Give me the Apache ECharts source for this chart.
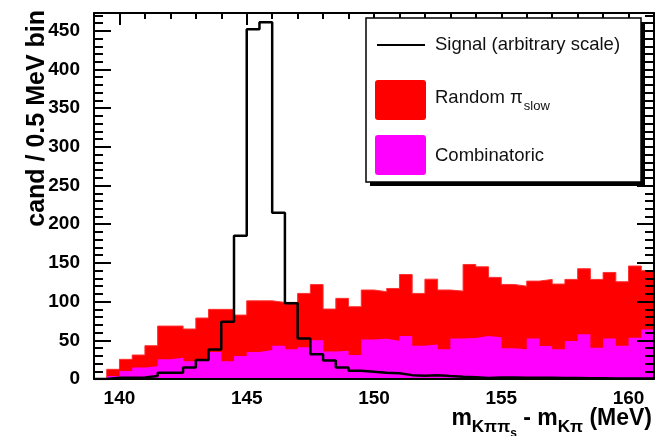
<!DOCTYPE html>
<html><head><meta charset="utf-8">
<script src="https://cdn.jsdelivr.net/npm/echarts@6/dist/echarts.min.js"></script>
<style>html,body{margin:0;padding:0;background:#fff}#chart{width:664px;height:436px}</style>
</head><body><div id="chart"></div>
<script>
// ---- data (0.5 MeV bins from 139 to 161 MeV) ----
const binEdges = [139,139.5,140,140.5,141,141.5,142,142.5,143,143.5,144,144.5,145,145.5,146,146.5,147,147.5,148,148.5,149,149.5,150,150.5,151,151.5,152,152.5,153,153.5,154,154.5,155,155.5,156,156.5,157,157.5,158,158.5,159,159.5,160,160.5,161];
const signal = [0,1.5,1.5,2,4,8,8,15,24.5,38,74,185,452,461,215,98,52.5,32,24,15,10.7,9.4,8,7.3,5,4.3,5,3.9,3,2.2,1.3,2,2,1.6,1.6,1.5,1.3,1.2,1,1,0.8,0.8,0.6,0.5];
// stacked height: Random pi_slow on top of Combinatoric
const randomPlusCombinatoric = [0,12.5,25.4,31,43,68.4,68.4,64.6,78.8,90,90,82.6,101,101,99,99,110.6,122,90.4,104.2,93.4,115,112.8,117,135,110.6,129,115,113.6,148,145,131.3,122.2,120,126.5,128.7,122.7,128.7,142.5,128.7,137.7,125.7,146,140];
const combinatoric = [0,4,10.3,15,16.4,25.4,27.5,23,25.4,35,23,29.7,35,37.4,43,38.3,41,50,35.5,36.5,31,51,52,49.5,55.5,43,44.7,38.3,52.5,53,55.5,53.8,39.6,38.3,52.5,42.6,38.3,49,57.7,40.5,52.5,43,53.4,64];
const xTickLabels = [140,145,150,155,160];
const yTickLabels = [0,50,100,150,200,250,300,350,400,450];
const legendSignal = 'Signal (arbitrary scale)';
const legendRandom = 'Random \u03C0';
const legendRandomSub = 'slow';
const legendComb = 'Combinatoric';
const yTitle = 'cand / 0.5 MeV bin';

const X_MIN = 139, X_MAX = 161, Y_MAX = 473;
const FONT = '"Liberation Sans", Arial, Helvetica, sans-serif';

function stepData(vals) {
  const d = vals.map((v, i) => [binEdges[i], v]);
  d.push([binEdges[vals.length], vals[vals.length - 1]]);
  return d;
}

const chart = echarts.init(document.getElementById('chart'), null, {renderer: 'canvas'});

const baseX = {type: 'value', min: X_MIN, max: X_MAX, gridIndex: 0,
  splitLine: {show: false}, axisLine: {show: false, onZero: false}, axisLabel: {show: false}, axisTick: {show: false}};
const baseY = {type: 'value', min: 0, max: Y_MAX, gridIndex: 0,
  splitLine: {show: false}, axisLine: {show: false, onZero: false}, axisLabel: {show: false}, axisTick: {show: false}};
const tickStyle = {color: '#000', width: 2};

// measure text for the x-axis title composition
const mctx = document.createElement('canvas').getContext('2d');
function tw(txt, size, weight) { mctx.font = (weight || 'bold') + ' ' + size + 'px ' + FONT; return mctx.measureText(txt).width; }

const titleParts = [
  {t: 'm', s: 23, dy: 0},
  {t: 'K\u03C0\u03C0', s: 17, dy: 7},
  {t: 's', s: 12, dy: 12},
  {t: ' - m', s: 23, dy: 0},
  {t: 'K\u03C0', s: 17, dy: 7},
  {t: ' (MeV)', s: 23, dy: 0}
];
const totalW = titleParts.reduce((a, p) => a + tw(p.t, p.s), 0);
let cx = 652 - totalW;
const titleEls = titleParts.map(p => {
  const el = {type: 'text', x: cx, y: 425 + p.dy + p.s * 0.21, silent: true,
    style: {text: p.t, font: 'bold ' + p.s + 'px ' + FONT, fill: '#000', textAlign: 'left', textVerticalAlign: 'bottom', align: 'left', verticalAlign: 'bottom'}};
  cx += tw(p.t, p.s);
  return el;
});

const randW = tw(legendRandom, 18.5, 'normal');

const option = {
  animation: false,
  backgroundColor: '#fff',
  grid: {left: 94, right: 10, top: 13, bottom: 57, containLabel: false},
  xAxis: [
    Object.assign({}, baseX, {position: 'bottom', z: 0,
      axisLabel: {show: true, customValues: xTickLabels, margin: 10, color: '#000', fontSize: 19, fontWeight: 'bold', fontFamily: FONT},
      axisTick: {show: true, inside: true, customValues: xTickLabels, length: 12, lineStyle: tickStyle}}),
    Object.assign({}, baseX, {position: 'bottom', z: 0, interval: 1,
      axisTick: {show: true, inside: true, length: 6, lineStyle: tickStyle}}),
    Object.assign({}, baseX, {position: 'top', z: 6,
      axisLine: {show: true, onZero: false, lineStyle: {color: '#000', width: 2}},
      axisTick: {show: true, inside: true, customValues: xTickLabels, length: 12, lineStyle: tickStyle}}),
    Object.assign({}, baseX, {position: 'top', z: 6, interval: 1,
      axisTick: {show: true, inside: true, length: 6, lineStyle: tickStyle}}),
    Object.assign({}, baseX, {position: 'bottom', z: 6,
      axisLine: {show: true, onZero: false, lineStyle: {color: '#000', width: 2}}})
  ],
  yAxis: [
    Object.assign({}, baseY, {position: 'left', z: 6, interval: 50,
      axisLine: {show: true, onZero: false, lineStyle: {color: '#000', width: 2}},
      axisLabel: {show: true, customValues: yTickLabels, margin: 14, padding: [4, 0, 0, 0], color: '#000', fontSize: 19, fontWeight: 'bold', fontFamily: FONT},
      axisTick: {show: true, inside: true, customValues: yTickLabels, length: 17, lineStyle: tickStyle}}),
    Object.assign({}, baseY, {position: 'left', z: 6, interval: 10,
      axisTick: {show: true, inside: true, length: 9, lineStyle: tickStyle}}),
    Object.assign({}, baseY, {position: 'right', z: 6, interval: 50,
      axisLine: {show: true, onZero: false, lineStyle: {color: '#000', width: 2}},
      axisTick: {show: true, inside: true, customValues: yTickLabels, length: 17, lineStyle: tickStyle}}),
    Object.assign({}, baseY, {position: 'right', z: 6, interval: 10,
      axisTick: {show: true, inside: true, length: 9, lineStyle: tickStyle}})
  ],
  series: [
    {name: 'Random \u03C0slow', type: 'line', step: 'end', xAxisIndex: 0, yAxisIndex: 0, z: 2,
      data: stepData(randomPlusCombinatoric), showSymbol: false, symbol: 'none',
      lineStyle: {width: 1, color: '#ff3030'}, areaStyle: {color: '#ff0000', opacity: 1}},
    {name: 'Combinatoric', type: 'line', step: 'end', xAxisIndex: 0, yAxisIndex: 0, z: 2,
      data: stepData(combinatoric), showSymbol: false, symbol: 'none',
      lineStyle: {width: 0, color: '#ff00ff'}, areaStyle: {color: '#ff00ff', opacity: 1}},
    {name: 'Signal', type: 'line', step: 'end', xAxisIndex: 0, yAxisIndex: 0, z: 3,
      data: stepData(signal), showSymbol: false, symbol: 'none',
      lineStyle: {width: 2.5, color: '#000'}}
  ],
  graphic: [
    // y-axis title
    {type: 'text', x: 37, y: 10, rotation: Math.PI / 2, silent: true,
      style: {text: yTitle, font: 'bold 25px ' + FONT, fill: '#000', textAlign: 'right', textVerticalAlign: 'middle', align: 'right', verticalAlign: 'middle'}},
    // legend
    {type: 'rect', z: 10, shape: {x: 370, y: 22, width: 275, height: 164}, style: {fill: '#000'}, silent: true},
    {type: 'rect', z: 11, shape: {x: 366, y: 18, width: 275, height: 164}, style: {fill: '#fff', stroke: '#000', lineWidth: 1.5}, silent: true},
    {type: 'line', z: 12, shape: {x1: 377, y1: 45, x2: 425, y2: 45}, style: {stroke: '#000', lineWidth: 2}, silent: true},
    {type: 'rect', z: 12, shape: {x: 375, y: 80, width: 51, height: 40, r: 3}, style: {fill: '#ff0000'}, silent: true},
    {type: 'rect', z: 12, shape: {x: 375, y: 135, width: 51, height: 40, r: 3}, style: {fill: '#ff00ff'}, silent: true},
    {type: 'text', z: 12, x: 435, y: 45, silent: true,
      style: {text: legendSignal, font: '18.5px ' + FONT, fill: '#111', textAlign: 'left', textVerticalAlign: 'middle', align: 'left', verticalAlign: 'middle'}},
    {type: 'text', z: 12, x: 435, y: 98, silent: true,
      style: {text: legendRandom, font: '18.5px ' + FONT, fill: '#111', textAlign: 'left', textVerticalAlign: 'middle', align: 'left', verticalAlign: 'middle'}},
    {type: 'text', z: 12, x: 435 + randW + 1, y: 106, silent: true,
      style: {text: legendRandomSub, font: '13px ' + FONT, fill: '#111', textAlign: 'left', textVerticalAlign: 'middle', align: 'left', verticalAlign: 'middle'}},
    {type: 'text', z: 12, x: 435, y: 156, silent: true,
      style: {text: legendComb, font: '18.5px ' + FONT, fill: '#111', textAlign: 'left', textVerticalAlign: 'middle', align: 'left', verticalAlign: 'middle'}}
  ].concat(titleEls)
};
chart.setOption(option);
</script>
</body></html>
